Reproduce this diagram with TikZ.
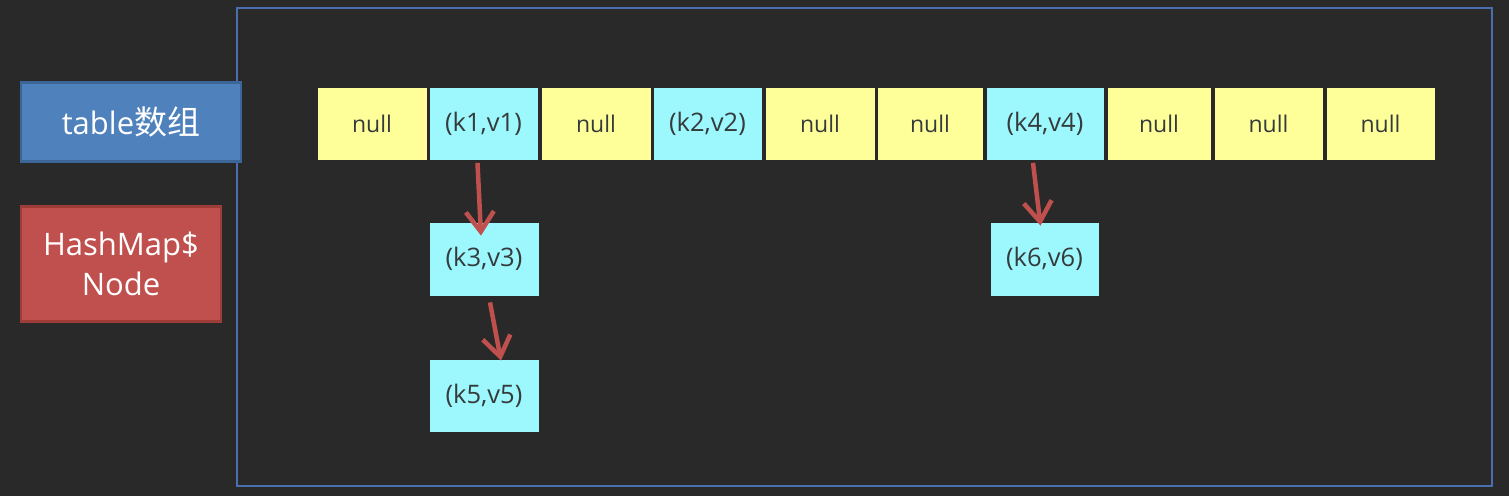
\documentclass[tikz,border=0pt]{standalone}
\usepackage{fontspec}
\setmainfont{Open Sans}
\newfontfamily\cjk{Noto Sans CJK SC}
\usetikzlibrary{arrows.meta}
\definecolor{bg}{HTML}{2A2929}
\definecolor{framec}{HTML}{4A6EAE}
\definecolor{bluebox}{HTML}{4F81BD}
\definecolor{blueedge}{HTML}{3D6698}
\definecolor{redbox}{HTML}{C0504D}
\definecolor{rededge}{HTML}{9E3C3A}
\definecolor{nullc}{HTML}{FFFF99}
\definecolor{entryc}{HTML}{9CF8FC}
\definecolor{txt}{HTML}{353B3C}
\definecolor{arrc}{HTML}{C0504D}
\tikzset{
  cellbox/.style={draw=bg, line width=0.8pt, minimum height=73pt, inner sep=0pt,
    font=\fontsize{23}{26}\selectfont, text=txt},
  nullcell/.style={cellbox, fill=nullc},
  entrycell/.style={cellbox, fill=entryc, font=\fontsize{25.5}{28}\selectfont},
  legend/.style={line width=2.5pt, inner sep=0pt, text=white, align=center,
    font=\fontsize{31}{40}\selectfont},
  arr/.style={draw=arrc, line width=4.5pt, -{Straight Barb[length=20pt,width=28pt,line width=4.5pt]}},
}
\begin{document}
\begin{tikzpicture}[x=1pt,y=-1pt]
\fill[bg] (0,0) rectangle (1509,496);
\useasboundingbox (0,0) rectangle (1509,496);
\draw[framec, line width=1.6pt] (237,8) rectangle (1492,486);

\node[legend, fill=bluebox, draw=blueedge, minimum width=220pt, minimum height=79pt] (tbl) at (131,122) {table{\cjk\fontsize{33}{40}\selectfont 数组}};
\node[legend, fill=redbox, draw=rededge, minimum width=200pt, minimum height=115pt] (hmn) at (121,264) {HashMap\$\\Node};

\node[nullcell, minimum width=110pt] (c1) at (372,124) {null};
\node[entrycell, minimum width=109pt] (c2) at (483.5,124) {(k1,v1)};
\node[nullcell, minimum width=110pt] (c3) at (596,124) {null};
\node[entrycell, minimum width=109pt] (c4) at (707.5,124) {(k2,v2)};
\node[nullcell, minimum width=110pt] (c5) at (820,124) {null};
\node[nullcell, minimum width=106pt] (c6) at (930,124) {null};
\node[entrycell, minimum width=118pt] (c7) at (1045,124) {(k4,v4)};
\node[nullcell, minimum width=104pt] (c8) at (1159,124) {null};
\node[nullcell, minimum width=109pt] (c9) at (1268.5,124) {null};
\node[nullcell, minimum width=109pt] (c10) at (1380.5,124) {null};

\node[entrycell, minimum width=110pt, minimum height=74pt] (k3) at (484,259) {(k3,v3)};
\node[entrycell, minimum width=110pt, minimum height=73pt] (k5) at (484,395.5) {(k5,v5)};
\node[entrycell, minimum width=109pt, minimum height=74pt] (k6) at (1044.5,259) {(k6,v6)};

\draw[arr] ([xshift=-6pt,yshift=-2pt]c2.south) -- ([xshift=-3pt,yshift=-14pt]k3.north);
\draw[arr] ([xshift=6pt,yshift=-6pt]k3.south) -- ([xshift=17pt,yshift=-2pt]k5.north);
\draw[arr] ([xshift=-12pt,yshift=-2pt]c7.south) -- ([xshift=-4pt,yshift=-4pt]k6.north);
\end{tikzpicture}
\end{document}
